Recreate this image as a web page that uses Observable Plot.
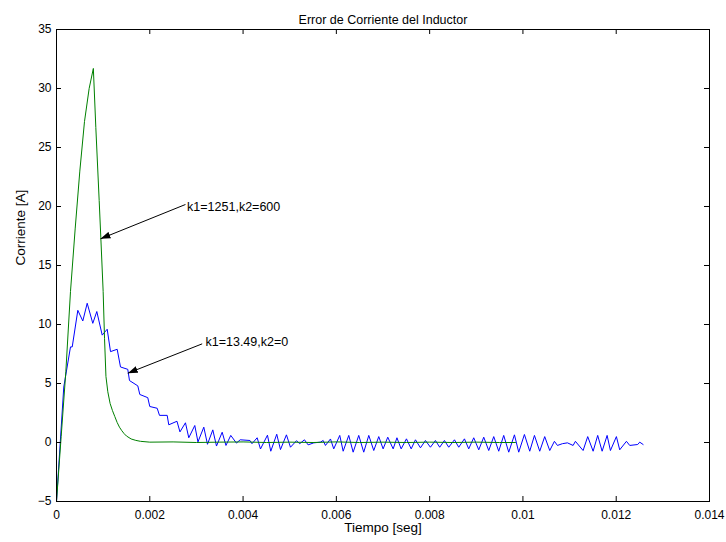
<!DOCTYPE html>
<html><head><meta charset="utf-8">
<script src="https://cdn.jsdelivr.net/npm/d3@7"></script>
<script src="https://cdn.jsdelivr.net/npm/@observablehq/plot@0.6"></script>
<style>body{margin:0;background:#fff} svg{display:block}</style>
</head><body><div id="chart"></div>
<script>
const title = "Error de Corriente del Inductor";
const xLabel = "Tiempo [seg]";
const yLabel = "Corriente [A]";
const xTicks = [0, 0.002, 0.004, 0.006, 0.008, 0.01, 0.012, 0.014];
const yTicks = [-5, 0, 5, 10, 15, 20, 25, 30, 35];

// blue series (k1=13.49, k2=0): time in ms, current in A
const blueMs = [0, 0.156, 0.300, 0.337, 0.457, 0.564, 0.658, 0.778, 0.864, 0.980,
  1.087, 1.158, 1.301, 1.372, 1.528, 1.565, 1.743, 1.786, 1.957, 2.000,
  2.159, 2.208, 2.373, 2.407, 2.583, 2.647, 2.765, 2.836, 2.965, 3.033,
  3.158, 3.237, 3.351, 3.430, 3.552, 3.633, 3.736, 3.858, 3.938, 4.148,
  4.191, 4.302, 4.373, 4.523, 4.594, 4.722, 4.802, 4.930, 5.016, 5.145,
  5.215, 5.316, 5.395, 5.516, 5.659, 5.717, 5.766, 5.874, 5.944, 6.073,
  6.146, 6.266, 6.360, 6.480, 6.587, 6.695, 6.802, 6.909, 7.003, 7.102,
  7.218, 7.299, 7.389, 7.503, 7.604, 7.696, 7.803, 7.910, 8.017, 8.124,
  8.216, 8.317, 8.409, 8.532, 8.624, 8.746, 8.838, 8.945, 9.053, 9.160,
  9.267, 9.374, 9.481, 9.588, 9.696, 9.818, 9.910, 10.032, 10.146, 10.247,
  10.360, 10.467, 10.575, 10.675, 10.740, 10.847, 10.954, 11.076, 11.125, 11.290,
  11.389, 11.505, 11.603, 11.698, 11.805, 11.876, 12.004, 12.075, 12.219, 12.290,
  12.461, 12.504, 12.577];
const blueVal = [-5, 4.7, 8.1, 8.1, 11.2, 10.3, 11.8, 10.1, 11.1, 9.1,
  9.6, 7.7, 7.9, 6.4, 6.2, 5.25, 4.8, 4.07, 3.8, 3.05,
  2.9, 2.3, 2.3, 1.5, 1.8, 0.9, 1.67, 0.4, 1.44, 0.05,
  1.3, -0.15, 1.07, -0.3, 0.87, -0.25, 0.6, -0.05, 0.23, 0.17,
  -0.1, 0.4, -0.55, 0.62, -0.74, 0.7, -0.6, 0.65, -0.4, 0.15,
  -0.1, 0.23, -0.2, -0.03, 0.03, 0.17, -0.25, 0.3, -0.54, 0.6,
  -0.74, 0.6, -0.82, 0.6, -0.82, 0.6, -0.68, 0.5, -0.54, 0.45,
  -0.54, 0.4, -0.54, 0.31, -0.54, 0.23, -0.45, 0.17, -0.4, 0.17,
  -0.4, 0.17, -0.4, 0.23, -0.4, 0.31, -0.54, 0.4, -0.62, 0.45,
  -0.68, 0.5, -0.74, 0.6, -0.82, 0.65, -0.82, 0.68, -0.74, 0.6,
  -0.74, 0.5, -0.68, 0.1, -0.25, -0.1, -0.03, -0.25, 0.1, -0.68,
  0.5, -0.74, 0.6, -0.74, 0.6, -0.68, 0.5, -0.62, 0.1, -0.25,
  -0.17, 0.03, -0.17];

// green series (k1=1251, k2=600)
const greenMs = [0, 0.1, 0.2, 0.3, 0.4, 0.5, 0.6, 0.7, 0.79, 0.843,
  0.915, 0.95, 1.0, 1.03, 1.06, 1.1, 1.15, 1.2, 1.25, 1.3,
  1.35, 1.4, 1.45, 1.5, 1.6, 1.7, 1.8, 2.0, 2.5, 3.0,
  3.5, 4.0, 4.5, 5.0, 5.5, 6.0, 6.5, 7.0, 7.5, 8.0,
  8.5, 9.0, 9.5, 9.84];
const greenVal = [-5, 0.5, 6, 12.8, 18.1, 23, 27.2, 30, 31.7, 26.7,
  20.5, 17.4, 12.8, 8.8, 5.6, 4.3, 3.3, 2.7, 2.2, 1.7,
  1.3, 1.0, 0.75, 0.55, 0.3, 0.18, 0.1, 0.03, 0.05, 0,
  0.03, 0.05, 0, 0.03, 0, 0.05, 0, 0.03, 0, 0.03,
  0, 0.03, 0, 0];

// annotations
const noteLabels = ["k1=1251,k2=600", "k1=13.49,k2=0"];
const noteTextMs = [2.80, 3.194];
const noteTextVal = [19.94, 8.5];
const noteFromMs = [2.765, 3.123];
const noteFromVal = [20.17, 8.36];
const noteToMs = [0.943, 1.528];
const noteToVal = [17.26, 5.87];

const blueIdx = d3.range(blueMs.length);
const greenIdx = d3.range(greenMs.length);
const noteIdx = d3.range(noteLabels.length);

function arrowHead(color, context) {
  const m = d3.create("svg:marker")
    .attr("viewBox", "-10 -4 10 8")
    .attr("markerWidth", 10).attr("markerHeight", 8)
    .attr("markerUnits", "userSpaceOnUse")
    .attr("orient", "auto").attr("refX", 0).attr("refY", 0);
  m.append("path").attr("d", "M-10,-3.5L0,0L-10,3.5Z").attr("fill", "black").attr("stroke", "none");
  return m.node();
}

const W = 726, H = 542, mL = 56, mT = 29, mR = 17, mB = 41;
const innerW = W - mL - mR, innerH = H - mT - mB;
const fmt = d3.format("~g");

const chart = Plot.plot({
  width: W, height: H,
  marginLeft: mL, marginTop: mT, marginRight: mR, marginBottom: mB,
  style: {fontFamily: "'Liberation Sans', Arial, sans-serif", fontSize: "12px", color: "black", background: "white"},
  x: {domain: [0, 0.014]},
  y: {domain: [-5, 35]},
  marks: [
    Plot.line(blueIdx, {x: i => blueMs[i] / 1000, y: i => blueVal[i], stroke: "#0000ff", strokeWidth: 1}),
    Plot.line(greenIdx, {x: i => greenMs[i] / 1000, y: i => greenVal[i], stroke: "#008000", strokeWidth: 1}),
    Plot.ruleX(xTicks, {x: d => d, insetTop: innerH - 5, stroke: "black"}),
    Plot.ruleX(xTicks, {x: d => d, insetBottom: innerH - 5, stroke: "black"}),
    Plot.ruleY(yTicks, {y: d => d, insetRight: innerW - 5, stroke: "black"}),
    Plot.ruleY(yTicks, {y: d => d, insetLeft: innerW - 5, stroke: "black"}),
    Plot.frame({stroke: "black"}),
    Plot.axisX(xTicks, {tickSize: 0, tickPadding: 9, label: null, fill: "black", tickFormat: fmt}),
    Plot.axisY(yTicks, {tickSize: 0, tickPadding: 5, label: null, fill: "black", tickFormat: fmt}),
    Plot.link(noteIdx, {x1: i => noteFromMs[i] / 1000, y1: i => noteFromVal[i], x2: i => noteToMs[i] / 1000, y2: i => noteToVal[i], stroke: "black", strokeWidth: 1, markerEnd: arrowHead}),
    Plot.text(noteIdx, {x: i => noteTextMs[i] / 1000, y: i => noteTextVal[i], text: i => noteLabels[i], textAnchor: "start", fill: "black", fontSize: 12.5}),
    Plot.text([title], {frameAnchor: "top", dy: -14, fill: "black", fontSize: 12.5}),
    Plot.text([xLabel], {frameAnchor: "bottom", dy: 30, fill: "black", fontSize: 13.5}),
    Plot.text([yLabel], {frameAnchor: "left", dx: -36, rotate: -90, fill: "black", fontSize: 13.5})
  ]
});
document.getElementById("chart").appendChild(chart);
</script>
</body></html>
